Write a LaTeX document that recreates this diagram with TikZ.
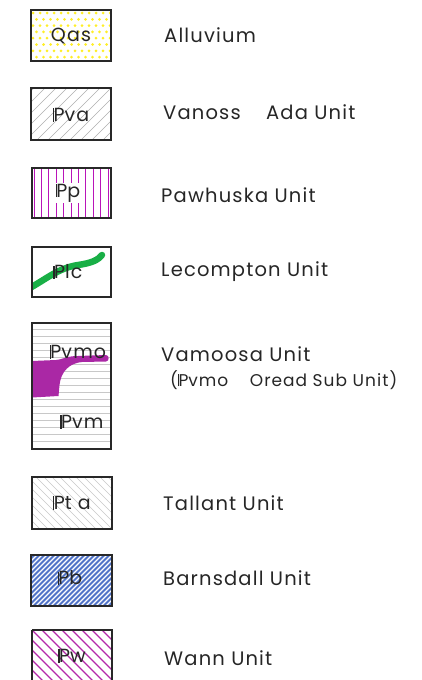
\documentclass[tikz,border=0pt]{standalone}
\usepackage{fontspec}
\setmainfont{Poppins}[LetterSpace=6]
\newcommand{\Penn}{\mbox{\rule{0.065em}{0.7em}\kern-0.03em P}}
\definecolor{boxline}{RGB}{40,40,40}
\definecolor{dotyel}{RGB}{255,238,40}
\definecolor{lgray}{RGB}{175,175,175}
\definecolor{llgray}{RGB}{200,200,200}
\definecolor{magline}{RGB}{185,20,185}
\definecolor{grn}{RGB}{25,175,70}
\definecolor{purp}{RGB}{170,40,165}
\definecolor{blu}{RGB}{80,115,200}
\definecolor{wmag}{RGB}{180,40,170}
\tikzset{
  legbox/.style={draw=boxline, line width=1.1pt},
  boxtxt/.style={font=\fontsize{19}{21}\selectfont, text=black!85, inner sep=0pt},
  lbl/.style={font=\fontsize{19.5}{22}\selectfont, text=black!85, anchor=west, inner sep=0pt},
  sublbl/.style={font=\fontsize{17}{20}\selectfont, text=black!85, anchor=west, inner sep=0pt}
}
\begin{document}
\begin{tikzpicture}[x=1pt,y=-1pt]
\useasboundingbox (0,0) rectangle (422,680);
% Box 1 Qas
\begin{scope}
\clip (31,10) rectangle (111,61);
\foreach \r in {0,...,8}{
  \foreach \c in {0,...,12}{
    \pgfmathsetmacro{\xx}{33+\c*7+mod(\r,2)*3.5}
    \pgfmathsetmacro{\yy}{13+\r*6.3}
    \fill[dotyel] (\xx,\yy) circle (1.5);
  }
}
\end{scope}
\draw[legbox] (31,10) rectangle (111,61);
\node[boxtxt] (qas) at (71,36) {Qas};
% Box 2 Pva
\begin{scope}
\clip (31,88) rectangle (111,140);
\foreach \i in {-60,-49,...,90} \draw[lgray, line width=0.5pt] (31+\i,140) -- ++(60,-60);
\end{scope}
\draw[legbox] (31,88) rectangle (111,140);
\node[boxtxt] (pva) at (71,115) {\Penn va};
% Box 3 Pp
\begin{scope}
\clip (32,168) rectangle (111,218);
\foreach \i in {0,...,10} \draw[magline, line width=0.9pt] (34+\i*7.4,168) -- ++(0,50);
\end{scope}
\draw[legbox] (32,168) rectangle (111,218);
\node[boxtxt, fill=white, inner sep=0.5pt] (pp) at (68,193) {\Penn p};
% Box 4 Plc
\begin{scope}
\clip (32,247) rectangle (111,297);
\draw[grn, line width=6.5pt, line cap=round] (28,289) .. controls (45,280) and (58,268) .. (78,265) .. controls (92,263) and (98,260) .. (102,255);
\end{scope}
\draw[legbox] (32,247) rectangle (111,297);
\node[boxtxt] (plc) at (68,272) {\Penn lc};
% Box 5 Pvm
\begin{scope}
\clip (32,323) rectangle (111,449);
\foreach \i in {0,...,17} \draw[llgray, line width=0.5pt] (32,329+\i*7) -- ++(79,0);
\fill[purp] (32,361) -- (56,360) .. controls (61,360) and (66,356) .. (78,356) -- (106,355) .. controls (109.5,355) and (109.5,361.5) .. (106,361.5) -- (82,362) .. controls (70,363) and (61,371) .. (59.5,385) -- (58.5,396) -- (32,397.5) -- cycle;
\end{scope}
\draw[legbox] (32,323) rectangle (111,449);
\node[boxtxt] (pvmo) at (78,352) {\Penn vmo};
\node[boxtxt] (pvm) at (82,422) {\Penn vm};
% Box 6 Pta
\begin{scope}
\clip (32,477) rectangle (112,529);
\foreach \i in {-60,-52,...,90} \draw[llgray, line width=0.5pt] (32+\i,477) -- ++(60,60);
\end{scope}
\draw[legbox] (32,477) rectangle (112,529);
\node[boxtxt] (pta) at (72,503) {\Penn t a};
% Box 7 Pb
\begin{scope}
\clip (31,555) rectangle (112,606);
\fill[blu] (31,555) rectangle (112,606);
\foreach \i in {-60,-55,...,90} \draw[white, line width=1.4pt] (31+\i,606) -- ++(60,-60);
\end{scope}
\draw[legbox] (31,555) rectangle (112,606);
\node[boxtxt] (pb) at (70,578) {\Penn b};
% Box 8 Pw
\begin{scope}
\clip (32,630) rectangle (112,680);
\foreach \i in {-60,-50,...,90} \draw[wmag, line width=1.1pt] (32+\i,630) -- ++(60,60);
\end{scope}
\draw[legbox] (32,630) -- (32,680) (32,630) -- (112,630) -- (112,680);
\node[boxtxt] (pw) at (72,656) {\Penn w};
% Labels
\node[lbl] (t1) at (164,35) {Alluvium};
\node[lbl] (t2) at (163,112) {Vanoss\hspace{19pt} Ada Unit};
\node[lbl] (t3) at (161,195) {Pawhuska Unit};
\node[lbl] (t4) at (161,272) {Lecompton Unit};
\node[lbl] (t5) at (161,354) {Vamoosa Unit};
\node[sublbl] (t6) at (170,380) {(\Penn vmo\hspace{16pt} Oread Sub Unit)};
\node[lbl] (t7) at (163,503) {Tallant Unit};
\node[lbl] (t8) at (163,578) {Barnsdall Unit};
\node[lbl] (t9) at (164,658) {Wann Unit};
\end{tikzpicture}
\end{document}
